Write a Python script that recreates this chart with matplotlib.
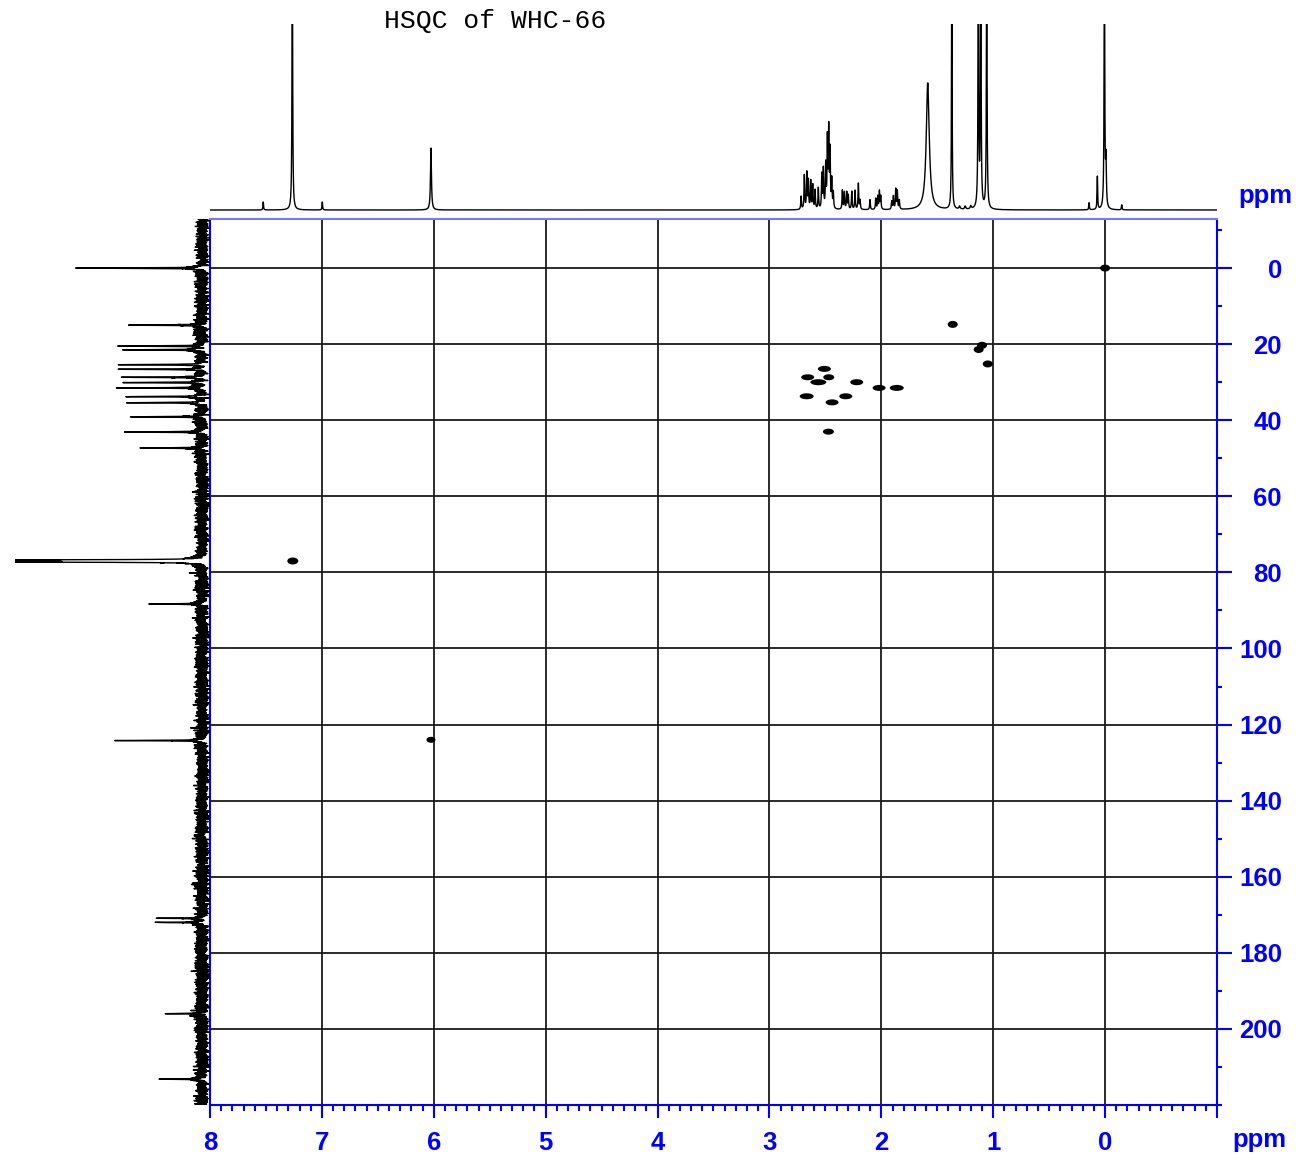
import matplotlib.pyplot as plt
import numpy as np
from matplotlib.patches import Ellipse
from matplotlib.ticker import MultipleLocator

plt.rcParams['font.family'] = ['Liberation Sans', 'DejaVu Sans']

# 1H projection peaks: shift (ppm), height, half-width (ppm)
h1_shift = [7.524, 7.264, 6.996, 6.025,
            2.717, 2.688, 2.666, 2.652, 2.631, 2.613, 2.592, 2.563, 2.532, 2.518,
            2.497, 2.482, 2.470, 2.458, 2.443, 2.429,
            2.348, 2.330, 2.309, 2.295, 2.264, 2.235, 2.205, 2.190,
            2.101, 2.050, 2.032, 2.017, 2.005,
            1.907, 1.892, 1.871, 1.857, 1.839,
            1.585, 1.370, 1.300, 1.250, 1.200, 1.133, 1.111, 1.058,
            0.143, 0.069, 0.006, -0.008, -0.149]
h1_height = [0.08, 2.6, 0.08, 0.62,
             0.13, 0.34, 0.36, 0.28, 0.28, 0.24, 0.19, 0.21, 0.34, 0.39,
             0.43, 0.68, 0.77, 0.56, 0.28, 0.16,
             0.19, 0.17, 0.17, 0.14, 0.18, 0.19, 0.26, 0.09,
             0.10, 0.11, 0.13, 0.18, 0.13,
             0.08, 0.13, 0.20, 0.18, 0.09,
             1.27, 2.6, 0.03, 0.03, 0.03, 2.6, 2.6, 2.6,
             0.07, 0.33, 2.6, 0.45, 0.05]
h1_hwhm = [0.003, 0.0035, 0.003, 0.005] + [0.0035] * 34 + \
          [0.016, 0.003, 0.006, 0.006, 0.006, 0.0035, 0.0035, 0.0035,
           0.003, 0.003, 0.0035, 0.004, 0.003]

# 13C projection peaks: shift (ppm), height
c13_shift = [0.0, 15.0, 20.5, 21.5, 25.4, 26.6, 28.7, 30.1, 31.5, 33.8, 35.4,
             39.1, 43.1, 47.3, 76.75, 77.0, 77.25, 88.3, 124.2, 170.9, 172.0,
             196.0, 213.2]
c13_height = [1.23, 0.77, 0.84, 0.79, 0.79, 0.78, 0.77, 0.77, 0.82, 0.73, 0.74,
              0.69, 0.79, 0.63, 2.2, 2.3, 2.2, 0.52, 0.84, 0.42, 0.48,
              0.35, 0.42]

# HSQC correlations: 1H shift, 13C shift
cross_h = [0.000, 1.362, 1.100, 1.130, 1.049, 2.509, 2.658, 2.470, 2.563,
           2.220, 2.020, 1.862, 2.667, 2.318, 2.440, 2.473, 7.260, 6.025]
cross_c = [0.0, 14.8, 20.3, 21.4, 25.2, 26.5, 28.7, 28.7, 30.0,
           30.0, 31.5, 31.5, 33.7, 33.7, 35.3, 43.0, 77.0, 124.0]
# contour blob size in pixels (width, height)
cross_px = [(10, 7), (10, 7), (10, 7), (10, 7), (10, 7), (13, 6), (13, 6), (11, 6), (16, 6),
            (13, 6), (13, 6), (14, 6), (14, 6), (13, 6), (13, 6), (11, 6), (11, 7), (9, 6)]

x_ticks = [8, 7, 6, 5, 4, 3, 2, 1, 0, -1]
x_labels = ['8', '7', '6', '5', '4', '3', '2', '1', '0', '']
y_ticks = [0, 20, 40, 60, 80, 100, 120, 140, 160, 180, 200]


def lorentz_sum(axis, shifts, heights, widths):
    out = np.zeros_like(axis)
    for s, h, w in zip(shifts, heights, widths):
        out += h * w ** 2 / ((axis - s) ** 2 + w ** 2)
    return out


W, H = 1296, 1157
fig = plt.figure(figsize=(W / 100, H / 100), dpi=100)

ax = fig.add_axes([210 / W, 52 / H, 1007 / W, 886 / H])
ax_h = fig.add_axes([210 / W, 945 / H, 1007 / W, 188 / H])
ax_c = fig.add_axes([15 / W, 52 / H, 195 / W, 886 / H])

# proton projection on top
h_axis = np.arange(-1.0, 8.0, 0.0005)
h_int = lorentz_sum(h_axis, h1_shift, h1_height, h1_hwhm)
ax_h.plot(h_axis, h_int, color='black', lw=1.0)
ax_h.set_xlim(8, -1)
ax_h.set_ylim(-0.02, 1.86)
ax_h.axis('off')

# carbon projection on the left, with baseline noise
c_axis = np.arange(-13.0, 220.0, 0.02)
c_int = lorentz_sum(c_axis, c13_shift, c13_height, [0.08] * len(c13_shift))
rng = np.random.default_rng(7)
c_int += rng.normal(0, 0.03, c_axis.size)
ax_c.plot(c_int, c_axis, color='black', lw=1.0)
ax_c.set_xlim(1.87, -0.08)
ax_c.set_ylim(220, -12.9)
ax_c.axis('off')

# 2D spectrum
ax.set_xlim(8, -1)
ax.set_ylim(220, -12.9)
px_x = 1007 / 9.0
px_y = 886 / 232.9
for hx, cy, (wp, hp) in zip(cross_h, cross_c, cross_px):
    ax.add_patch(Ellipse((hx, cy), wp / px_x, hp / px_y, facecolor='black',
                         edgecolor='none', zorder=3))

ax.set_xticks(x_ticks, labels=x_labels, fontweight='bold')
ax.xaxis.set_minor_locator(MultipleLocator(0.1))
ax.yaxis.tick_right()
ax.set_yticks(y_ticks, labels=[str(v) for v in y_ticks], fontweight='bold')
ax.yaxis.set_minor_locator(MultipleLocator(10))
for lab in ax.get_yticklabels():
    lab.set_horizontalalignment('right')

ax.tick_params(axis='x', which='major', direction='out', length=9.4, width=1.5,
               color='blue', labelcolor='blue', labelsize=18.5, pad=9.0)
ax.tick_params(axis='x', which='minor', direction='out', length=4.3, width=1.5,
               color='blue')
ax.tick_params(axis='y', which='major', direction='out', length=10.8, width=1.5,
               color='blue', labelcolor='blue', labelsize=18.5, pad=36)
ax.tick_params(axis='y', which='minor', direction='out', length=3.6, width=1.5,
               color='blue')
ax.grid(which='major', color='#1a1a1a', lw=1.3)

for side in ['bottom', 'left', 'right']:
    ax.spines[side].set_color('blue')
    ax.spines[side].set_linewidth(1.5)
ax.spines['top'].set_color('#7878ff')
ax.spines['top'].set_linewidth(1.5)

fig.text(384 / W, 1 - 21 / H, 'HSQC of WHC-66', family='Liberation Mono',
         fontsize=19, va='center', ha='left')
fig.text(1238 / W, 1 - 203 / H, 'ppm', color='blue', fontweight='bold',
         fontsize=18.5, va='baseline')
fig.text(1232 / W, 1 - 1147 / H, 'ppm', color='blue', fontweight='bold',
         fontsize=18.5, va='baseline')

fig.savefig('out.png', dpi=100)
